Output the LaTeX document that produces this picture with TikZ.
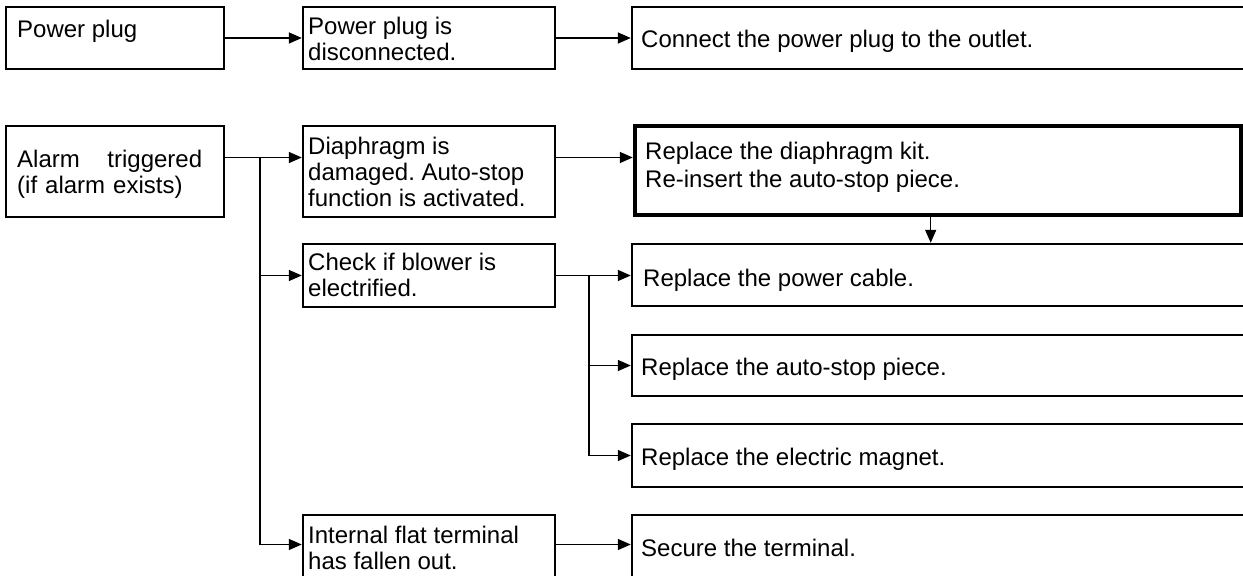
\documentclass[tikz,border=0pt]{standalone}
\usepackage{fontspec}
\setmainfont{Liberation Sans}
\usepackage{tikz}
\usetikzlibrary{arrows.meta}
\frenchspacing

\begin{document}
\begin{tikzpicture}[
  x=1pt, y=-1pt,
  box/.style={draw, line width=1.2pt, inner sep=0pt},
  txt/.style={font=\fontsize{12}{13}\selectfont, inner sep=0pt, align=left},
  link/.style={line width=0.75pt, -{Triangle[length=6.5pt,width=5.5pt]}},
  >=Stealth
]
  \useasboundingbox (0,0) rectangle (621.5,288);
  \clip (0,0) rectangle (621.5,288);

  % Power plug
  \node[box, minimum width=109pt, minimum height=31pt] (plug) at (57.5,19) {};
  \node[txt, anchor=north west] at ([xshift=6pt,yshift=-7pt]plug.north west) {Power plug};

  \node[box, minimum width=126pt, minimum height=31pt] (unplugged) at (214.5,19) {};
  \node[txt, anchor=north west] at ([xshift=3pt,yshift=-5.5pt]unplugged.north west) {Power plug is\\disconnected.};

  \node[box, minimum width=324pt, minimum height=31pt] (connect) at (478,19) {};
  \node[txt, anchor=base west] at ([xshift=5pt,yshift=-5pt]connect.west) {Connect the power plug to the outlet.};

  % Alarm
  \node[box, minimum width=109pt, minimum height=45.5pt] (alarm) at (57.5,85.75) {};
  \node[txt, anchor=north west, text width=92.5pt] at ([xshift=6pt,yshift=-12.5pt]alarm.north west) {Alarm\hfill triggered\\(if alarm exists)};

  \node[box, minimum width=126pt, minimum height=45.5pt] (diaph) at (214.5,85.75) {};
  \node[txt, anchor=north west] at ([xshift=3pt,yshift=-6pt]diaph.north west) {Diaphragm is\\damaged. Auto-stop\\function is activated.};

  \node[box, line width=2pt, minimum width=302.9pt, minimum height=44.5pt] (kit) at (468.85,85.5) {};
  \node[txt, anchor=north west, font=\fontsize{12}{14}\selectfont] at ([xshift=6pt,yshift=-8.5pt]kit.north west) {Replace the diaphragm kit.\\Re-insert the auto-stop piece.};

  % Blower
  \node[box, minimum width=126pt, minimum height=31.5pt] (check) at (214.5,137.75) {};
  \node[txt, anchor=north west] at ([xshift=3pt,yshift=-5pt]check.north west) {Check if blower is\\electrified.};

  \node[box, minimum width=324pt, minimum height=31pt] (cable) at (478,137.5) {};
  \node[txt, anchor=base west] at ([xshift=6pt,yshift=-6pt]cable.west) {Replace the power cable.};

  \node[box, minimum width=324pt, minimum height=30.5pt] (autostop) at (478,182.75) {};
  \node[txt, anchor=base west] at ([xshift=5pt,yshift=-5pt]autostop.west) {Replace the auto-stop piece.};

  \node[box, minimum width=324pt, minimum height=31.5pt] (magnet) at (478,227.75) {};
  \node[txt, anchor=base west] at ([xshift=5pt,yshift=-5pt]magnet.west) {Replace the electric magnet.};

  % Terminal
  \node[box, minimum width=126pt, minimum height=31.5pt] (term) at (214.5,273.25) {};
  \node[txt, anchor=north west] at ([xshift=3pt,yshift=-6pt]term.north west) {Internal flat terminal\\has fallen out.};

  \node[box, minimum width=324pt, minimum height=31.5pt] (secure) at (478,273.25) {};
  \node[txt, anchor=base west] at ([xshift=5pt,yshift=-5pt]secure.west) {Secure the terminal.};

  % Connectors
  \draw[link] (plug) -- (unplugged);
  \draw[link] (unplugged) -- (connect);

  \coordinate (fork) at ([yshift=7pt]alarm.east -| 130,0);
  \draw[link] ([yshift=7pt]alarm.east) -- ([yshift=7pt]alarm.east -| diaph.west);
  \draw[link] ([yshift=7pt]diaph.east) -- ([yshift=7pt]diaph.east -| kit.west);
  \draw[link] (fork) |- (check.west);
  \draw[link] (fork) |- ([yshift=1pt]term.west);
  \draw[link] ([xshift=-3.5pt]kit.south) -- ([xshift=-3.5pt]kit.south |- cable.north);

  \coordinate (fork2) at (check.east -| 294.5,0);
  \draw[link] (check.east) -- (check.east -| cable.west);
  \draw[link] (fork2) |- (autostop.west);
  \draw[link] (fork2) |- (magnet.west);
  \draw[link] ([yshift=1pt]term.east) -- ([yshift=1pt]term.east -| secure.west);
\end{tikzpicture}
\end{document}
